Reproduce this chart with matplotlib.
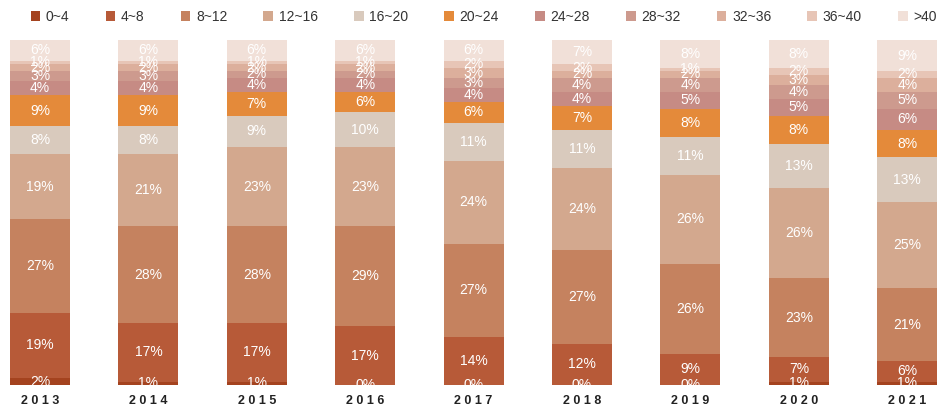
import numpy as np
import matplotlib
matplotlib.use("Agg")
import matplotlib.pyplot as plt

plt.rcParams['font.family'] = ['Liberation Sans', 'DejaVu Sans']

years = ["2013", "2014", "2015", "2016", "2017", "2018", "2019", "2020", "2021"]
bands = ["0~4", "4~8", "8~12", "12~16", "16~20", "20~24",
         "24~28", "28~32", "32~36", "36~40", ">40"]

# share (%) of each band per year, bottom to top
s_0_4 = [2, 1, 1, 0, 0, 0, 0, 1, 1]
s_4_8 = [19, 17, 17, 17, 14, 12, 9, 7, 6]
s_8_12 = [27, 28, 28, 29, 27, 27, 26, 23, 21]
s_12_16 = [19, 21, 23, 23, 24, 24, 26, 26, 25]
s_16_20 = [8, 8, 9, 10, 11, 11, 11, 13, 13]
s_20_24 = [9, 9, 7, 6, 6, 7, 8, 8, 8]
s_24_28 = [4, 4, 4, 4, 4, 4, 5, 5, 6]
s_28_32 = [3, 3, 2, 2, 3, 4, 4, 4, 5]
s_32_36 = [2, 2, 2, 2, 3, 2, 2, 3, 4]
s_36_40 = [1, 1, 1, 1, 2, 2, 1, 2, 2]
s_gt_40 = [6, 6, 6, 6, 6, 7, 8, 8, 9]

series = [s_0_4, s_4_8, s_8_12, s_12_16, s_16_20, s_20_24,
          s_24_28, s_28_32, s_32_36, s_36_40, s_gt_40]
colors = ["#a4431f", "#b75a38", "#c5825f", "#d3a88e", "#d9cabd", "#e48a3a",
          "#c68b84", "#cd9a8e", "#dcaf9c", "#e7c5b6", "#f1e0d8"]

fig = plt.figure(figsize=(9.52, 4.09), dpi=100)
ax = fig.add_axes([0, 24 / 409, 1, 345 / 409])

x = np.arange(len(years))
bottom = np.zeros(len(years))
for vals, name, c in zip(series, bands, colors):
    vals = np.array(vals, dtype=float)
    ax.bar(x, vals, width=0.553, bottom=bottom, color=c, label=name, linewidth=0)
    # white percentage label in the middle of each segment
    for xi, b, v in zip(x, bottom, vals):
        ax.text(xi, b + v / 2, f"{int(v)}%", ha="center", va="center",
                color="white", fontsize=10)
    bottom += vals

ax.set_xlim(-0.369, 8.413)
ax.set_ylim(0, 100)
ax.set_xticks(x)
ax.set_xticklabels([" ".join(y) for y in years], fontsize=9, fontweight="bold",
                   color="#222222")
ax.tick_params(axis="x", length=0, pad=7)
ax.set_yticks([])
for sp in ax.spines.values():
    sp.set_visible(False)

fig.legend(loc="upper center", bbox_to_anchor=(0.508, 1.006), ncol=11, frameon=False,
           fontsize=10, handlelength=0.7, handleheight=0.7, handletextpad=0.4,
           columnspacing=2.6, labelcolor="#333333")

fig.savefig("out.png", dpi=100)
